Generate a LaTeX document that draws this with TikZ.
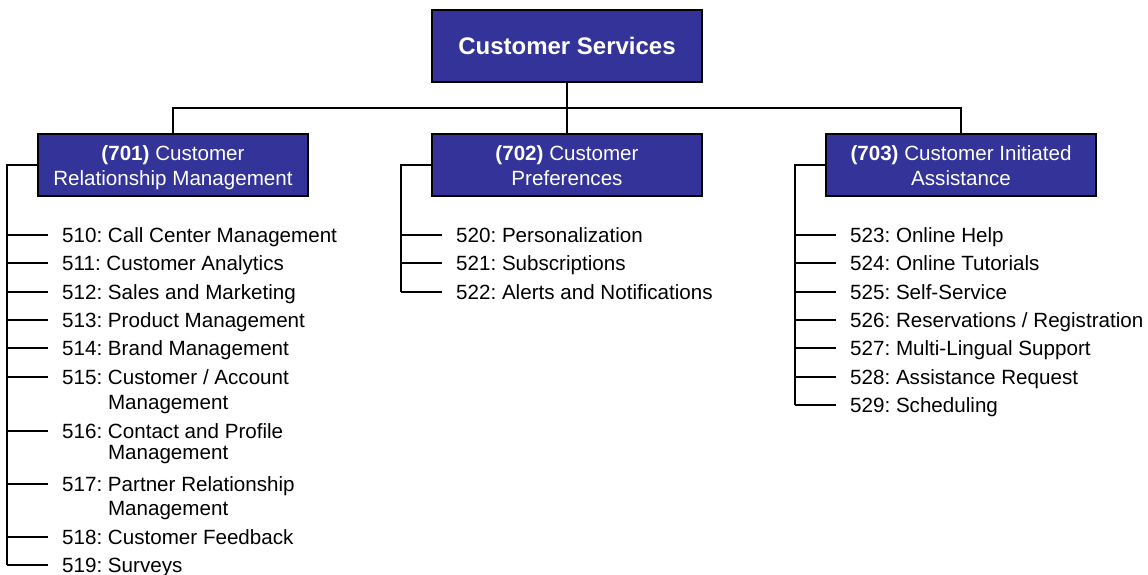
\documentclass[tikz,border=0pt]{standalone}
\usepackage{fontspec}
\setmainfont{Liberation Sans}
\usetikzlibrary{calc}
\frenchspacing
\definecolor{csblue}{RGB}{51,51,153}
\tikzset{
  unitbox/.style={draw=black, line width=1.6pt, fill=csblue, text=white, align=center,
    minimum width=270pt, minimum height=62pt, inner sep=0pt,
    text height=45pt, text depth=4pt,
    font=\fontsize{20.6}{25}\selectfont},
  link/.style={line width=1.6pt},
  itemtext/.style={anchor=base west, inner sep=0pt,
    font=\fontsize{20.6}{25}\selectfont}
}
\newcommand\twoline[3][0pt]{\vtop{\hbox{#2}\kern#1\hbox{#3}}}
\newcommand\svcitem[5]{%
  \coordinate (#3t) at (#2+41, #4);
  \draw[link] (#1 |- #3t) -- (#3t);
  \node[itemtext] (#3) at (#2+55, #4+7.4) {#5}
}
\begin{document}
\begin{tikzpicture}[x=1pt, y=-1pt]
  \useasboundingbox (0,0) rectangle (1148,575);
  % The boxes
  \node[unitbox, minimum height=72pt, text height=, text depth=, font=\bfseries\fontsize{24}{28}\selectfont] (cs) at (567,46) {Customer Services};
  \node[unitbox] (crm) at (173,165) {\textbf{(701)} Customer\\Relationship Management};
  \node[unitbox] (pref) at (567,165) {\textbf{(702)} Customer\\Preferences};
  \node[unitbox] (cia) at (961,165) {\textbf{(703)} Customer Initiated\\Assistance};
  % Tree lines
  \coordinate (bus) at (567,108);
  \draw[link] (cs) -- (pref);
  \draw[link] (crm.north) |- (bus) -| (cia.north);
  \coordinate (crmrail) at (7,0);
  \coordinate (prefrail) at (401,0);
  \coordinate (ciarail) at (795,0);

  % 701 list
  \svcitem{crmrail}{7}{i510}{235}{510: Call Center Management};
  \svcitem{crmrail}{7}{i511}{263}{511: Customer Analytics};
  \svcitem{crmrail}{7}{i512}{292}{512: Sales and Marketing};
  \svcitem{crmrail}{7}{i513}{320}{513: Product Management};
  \svcitem{crmrail}{7}{i514}{348}{514: Brand Management};
  \svcitem{crmrail}{7}{i515}{377}{\twoline{515: Customer / Account}{\phantom{515: }Management}};
  \svcitem{crmrail}{7}{i516}{431}{\twoline[-4pt]{516: Contact and Profile}{\phantom{516: }Management}};
  \svcitem{crmrail}{7}{i517}{484}{\twoline[-1pt]{517: Partner Relationship}{\phantom{517: }Management}};
  \svcitem{crmrail}{7}{i518}{537}{518: Customer Feedback};
  \svcitem{crmrail}{7}{i519}{565}{519: Surveys};
  \draw[link] (crm.west) -| (crmrail |- i519t);

  % 702 list
  \svcitem{prefrail}{401}{i520}{235}{520: Personalization};
  \svcitem{prefrail}{401}{i521}{263}{521: Subscriptions};
  \svcitem{prefrail}{401}{i522}{292}{522: Alerts and Notifications};
  \draw[link] (pref.west) -| (prefrail |- i522t);

  % 703 list
  \svcitem{ciarail}{795}{i523}{235}{523: Online Help};
  \svcitem{ciarail}{795}{i524}{263}{524: Online Tutorials};
  \svcitem{ciarail}{795}{i525}{292}{525: Self-Service};
  \svcitem{ciarail}{795}{i526}{320}{526: Reservations / Registration};
  \svcitem{ciarail}{795}{i527}{348}{527: Multi-Lingual Support};
  \svcitem{ciarail}{795}{i528}{377}{528: Assistance Request};
  \svcitem{ciarail}{795}{i529}{405}{529: Scheduling};
  \draw[link] (cia.west) -| (ciarail |- i529t);
\end{tikzpicture}
\end{document}
